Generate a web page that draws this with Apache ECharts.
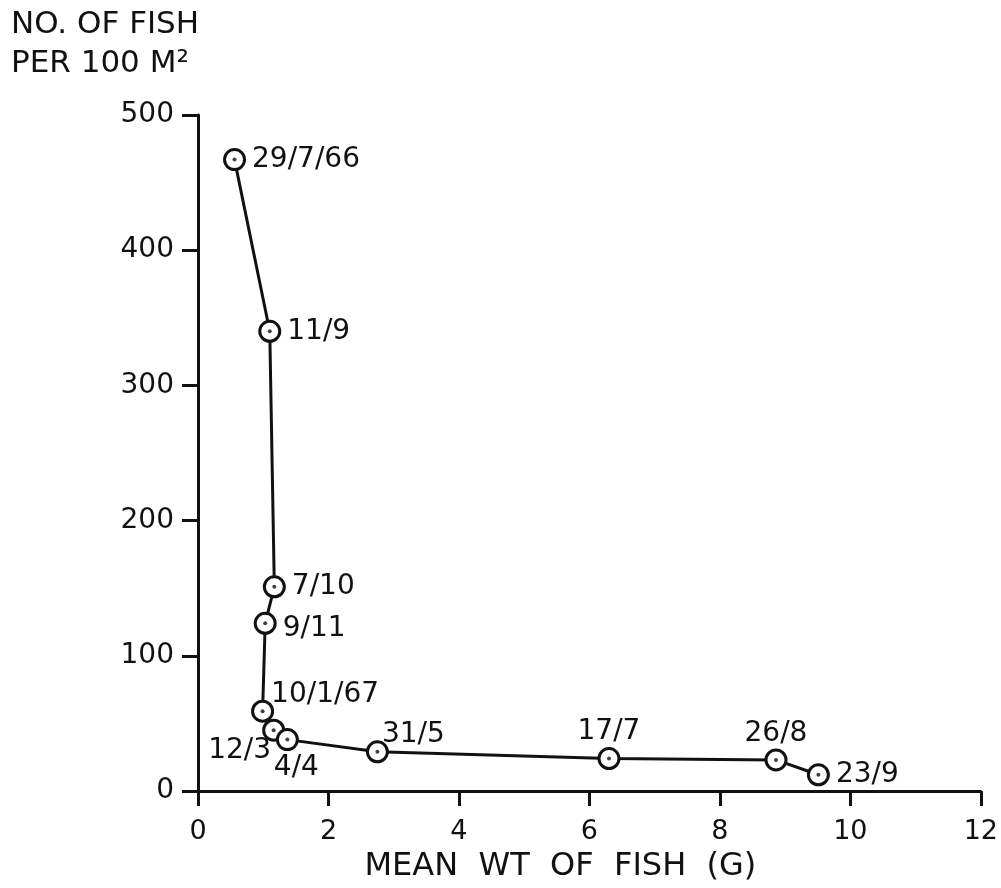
<!DOCTYPE html>
<html>
<head>
<meta charset="utf-8">
<script src="https://cdn.jsdelivr.net/npm/echarts@6/dist/echarts.min.js"></script>
<style>
  html, body { margin: 0; padding: 0; background: #fff; }
  #chart { width: 1001px; height: 888px; }
</style>
</head>
<body>
<div id="chart"></div>
<script>
// sampling dates and values
var dates = ["29/7/66", "11/9", "7/10", "9/11", "10/1/67", "12/3", "4/4", "31/5", "17/7", "26/8", "23/9"];
var meanWt = [0.56, 1.10, 1.17, 1.03, 0.99, 1.16, 1.37, 2.75, 6.30, 8.86, 9.51];
var fishPer100 = [467, 340, 151, 124, 59, 45, 38, 29, 24, 23, 12];
var labelPos = ["right", "right", "right", "right", "right", "left", "bottom", "top", "top", "top", "right"];

var xTicks = [0, 2, 4, 6, 8, 10, 12];
var yTicks = [0, 100, 200, 300, 400, 500];

var font = "DejaVu Sans";
var ink = "#111";

var pts = [];
for (var i = 0; i < dates.length; i++) {
  var lp = { show: true, position: labelPos[i], distance: 6 };
  // a few labels sit off the usual side in the original
  if (dates[i] == "9/11") { lp.offset = [0, 5]; }
  if (dates[i] == "10/1/67") { lp.position = [20, -19]; }
  if (dates[i] == "12/3") { lp.position = [-54, 18]; }
  if (dates[i] == "4/4") { lp.position = [-2, 26]; }
  if (dates[i] == "31/5") { lp.position = [16, -20]; }
  if (dates[i] == "17/7" || dates[i] == "26/8") { lp.distance = 1; }
  pts.push({ value: [meanWt[i], fishPer100[i]], name: dates[i], label: lp });
}

var chart = echarts.init(document.getElementById("chart"));
var option = {
  animation: false,
  backgroundColor: "#fff",
  grid: { left: 198, right: 16, top: 115, bottom: 95 },
  graphic: [
    { type: "text", left: 11, top: 9, style: { text: "NO. OF FISH", font: "31px " + font, fill: ink } },
    { type: "text", left: 11, top: 48, style: { text: "PER 100 M²", font: "31px " + font, fill: ink } }
  ],
  xAxis: {
    type: "value",
    min: 0, max: 12, interval: 2,
    name: "MEAN  WT  OF  FISH  (G)",
    nameLocation: "middle",
    nameGap: 60,
    nameTextStyle: { fontFamily: font, fontSize: 32, color: ink, padding: [0, 58, 0, 0] },
    axisLine: { show: true, lineStyle: { color: ink, width: 3 } },
    axisTick: { show: true, inside: false, length: 15, lineStyle: { color: ink, width: 3 } },
    axisLabel: { margin: 27, fontFamily: font, fontSize: 27, color: ink,
      formatter: function (v) { return xTicks.indexOf(v) >= 0 ? String(v) : ""; } },
    splitLine: { show: false }
  },
  yAxis: {
    type: "value",
    min: 0, max: 500, interval: 100,
    axisLine: { show: true, lineStyle: { color: ink, width: 3 } },
    axisTick: { show: true, length: 16, lineStyle: { color: ink, width: 3 } },
    axisLabel: { margin: 24, fontFamily: font, fontSize: 28, color: ink,
      formatter: function (v) { return yTicks.indexOf(v) >= 0 ? String(v) : ""; } },
    splitLine: { show: false }
  },
  series: [
    {
      type: "line",
      data: pts,
      symbol: "circle",
      symbolSize: 20,
      z: 3,
      lineStyle: { color: ink, width: 3 },
      itemStyle: { color: "#fff", borderColor: ink, borderWidth: 3 },
      label: {
        show: true,
        formatter: "{b}",
        fontFamily: font,
        fontSize: 28,
        color: ink
      }
    },
    {
      // centre dots of the markers
      type: "scatter",
      data: meanWt.map(function (x, i) { return [x, fishPer100[i]]; }),
      symbol: "circle",
      symbolSize: 4,
      z: 4,
      itemStyle: { color: ink },
      silent: true
    }
  ]
};
chart.setOption(option);
</script>
</body>
</html>
